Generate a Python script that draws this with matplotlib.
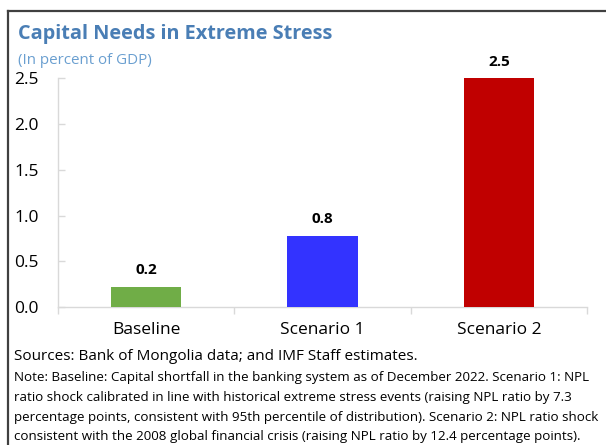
import matplotlib
matplotlib.use("Agg")
import matplotlib.pyplot as plt
from matplotlib.lines import Line2D

categories = ["Baseline", "Scenario 1", "Scenario 2"]
values = [0.22, 0.78, 2.5]
value_labels = ["0.2", "0.8", "2.5"]
colors = ["#70AD47", "#3333FF", "#C00000"]
yticks = [0.0, 0.5, 1.0, 1.5, 2.0, 2.5]

title = "Capital Needs in Extreme Stress"
subtitle = "(In percent of GDP)"
sources = "Sources: Bank of Mongolia data; and IMF Staff estimates."
note_lines = [
    "Note: Baseline: Capital shortfall in the banking system as of December 2022. Scenario 1: NPL",
    "ratio shock calibrated in line with historical extreme stress events (raising NPL ratio by 7.3",
    "percentage points, consistent with 95th percentile of distribution). Scenario 2: NPL ratio shock",
    "consistent with the 2008 global financial crisis (raising NPL ratio by 12.4 percentage points).",
]

plt.rcParams['font.family'] = ['Open Sans', 'DejaVu Sans']

W, H = 606, 445
fig = plt.figure(figsize=(W / 100, H / 100), dpi=100)

def fx(px):
    return px / W

def fy(py):
    return 1 - py / H

ax = fig.add_axes([fx(58), fy(307), fx(587) - fx(58), fy(78.3) - fy(307)])
x = list(range(len(categories)))
ax.bar(x, values, width=0.40, color=colors, zorder=3)
for xi, v, lab in zip(x, values, value_labels):
    ax.annotate(lab, (xi, v), xytext=(0, 7), textcoords="offset points",
                ha="center", va="bottom", fontsize=11, fontweight="bold", color="#000000")

ax.set_xlim(-0.5, 2.5)
ax.set_ylim(0, 2.5)
ax.set_yticks(yticks)
ax.set_yticklabels([f"{t:.1f}" for t in yticks])
ax.set_xticks([-0.5, 0.5, 1.5, 2.5])
ax.set_xticklabels([])
ax.set_xticks(x, minor=True)
ax.set_xticklabels(categories, minor=True)
ax.tick_params(axis="x", which="major", length=5, color="#D9D9D9", width=1)
ax.tick_params(axis="x", which="minor", length=0, pad=11, labelsize=12.5, labelcolor="#000000")
ax.tick_params(axis="y", direction="in", length=5, color="#D9D9D9", width=1,
               pad=14, labelsize=12.5, labelcolor="#000000")
for s in ["top", "right"]:
    ax.spines[s].set_visible(False)
for s in ["left", "bottom"]:
    ax.spines[s].set_color("#D9D9D9")
    ax.spines[s].set_linewidth(1)

fig.text(fx(18), fy(34.5), title, fontsize=14.3, fontweight="bold", color="#4A7EB5",
         ha="left", va="center")
fig.text(fx(18.5), fy(60), subtitle, fontsize=10.9, color="#6A9FD0",
         ha="left", va="center")
fig.text(fx(14), fy(357), sources, fontsize=11, color="#000000", ha="left", va="center")
for i, line in enumerate(note_lines):
    fig.text(fx(14), fy(378 + i * 19.5), line, fontsize=9.6, color="#000000",
             ha="left", va="center")

fig.add_artist(Line2D([fx(8), fx(606)], [fy(11), fy(11)], color="#404040", lw=1.6,
                      transform=fig.transFigure))
fig.add_artist(Line2D([fx(8), fx(8)], [fy(11), fy(445)], color="#404040", lw=1.6,
                      transform=fig.transFigure))

fig.savefig("out.png", dpi=100)
